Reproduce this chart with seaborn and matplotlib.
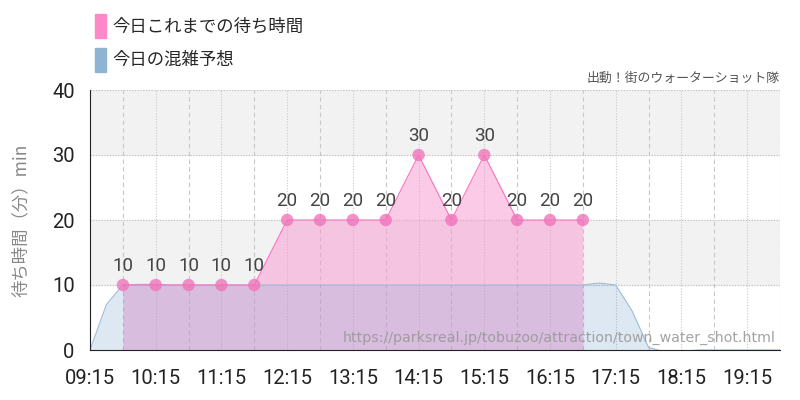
# %%
import pandas as pd
import matplotlib.pyplot as plt
import seaborn as sns
from matplotlib.patches import Patch

# %%
# 今日これまでの待ち時間 (実績)
jikoku = ['09:45', '10:15', '10:45', '11:15', '11:45', '12:15', '12:45', '13:15',
          '13:45', '14:15', '14:45', '15:15', '15:45', '16:15', '16:45']
machi = [10, 10, 10, 10, 10, 20, 20, 20, 20, 30, 20, 30, 20, 20, 20]

# 今日の混雑予想 (15分ごと)
yosou_jikoku = ['09:15', '09:30', '09:45', '10:00', '10:15', '10:30', '10:45', '11:00',
                '11:15', '11:30', '11:45', '12:00', '12:15', '12:30', '12:45', '13:00',
                '13:15', '13:30', '13:45', '14:00', '14:15', '14:30', '14:45', '15:00',
                '15:15', '15:30', '15:45', '16:00', '16:15', '16:30', '16:45', '17:00',
                '17:15', '17:30', '17:45', '18:00', '18:15', '18:30', '18:45', '19:00',
                '19:15', '19:30', '19:45']
yosou = [0, 7, 10, 10.1, 10.1, 10, 10, 10, 10, 10, 10, 10, 10, 10, 10, 10,
         10, 10, 10, 10, 10, 10, 10, 10, 10, 10, 10, 10, 10, 10, 10, 10.3,
         10, 6, 0.4, -0.3, -0.2, 0, 0, 0, 0, 0, 0]

x_ticks = ['09:15', '10:15', '11:15', '12:15', '13:15', '14:15', '15:15',
           '16:15', '17:15', '18:15', '19:15']
y_ticks = [0, 10, 20, 30, 40]


def to_h(s):
    h, m = s.split(':')
    return int(h) + int(m) / 60


df = pd.DataFrame({'t': [to_h(s) for s in jikoku], 'v': machi})
df_y = pd.DataFrame({'t': [to_h(s) for s in yosou_jikoku], 'v': yosou})

# %%
sns.set_style('white')
plt.rcParams['font.family'] = ['DejaVu Sans', 'Noto Sans CJK JP']
jp = ['Noto Sans CJK JP', 'DejaVu Sans']
num = ['Roboto', 'DejaVu Sans']

fig, ax = plt.subplots(figsize=(8, 4), dpi=100)
plt.subplots_adjust(left=90 / 800, right=780 / 800, top=1 - 90 / 400, bottom=1 - 350 / 400)

# 背景の縞模様
ax.axhspan(10, 20, color='#f2f2f2', zorder=0)
ax.axhspan(30, 40, color='#f2f2f2', zorder=0)

# グリッド
for y in y_ticks[1:]:
    ax.axhline(y, color='#bbbbbb', lw=0.8, ls=(0, (1, 1.5)), zorder=0.5)
t_start = to_h('09:15')
for i in range(22):
    t = t_start + i * 0.5
    if i % 2 == 0:
        ax.axvline(t, color='#c8c8c8', lw=0.8, ls=(0, (1, 1.5)), zorder=0.5)
    else:
        ax.axvline(t, color='#c8c8c8', lw=0.8, ls=(0, (4, 3)), zorder=0.5)

# 待ち時間 (塗り)
ax.fill_between(df['t'], df['v'], 0, color='#f997cf', alpha=0.5, lw=0, zorder=1)

# 混雑予想
ax.fill_between(df_y['t'], df_y['v'], 0, color='#558cc3', alpha=0.2, lw=0, zorder=2)
sns.lineplot(data=df_y, x='t', y='v', color='#9dbcd8', lw=0.8, ax=ax, zorder=3)

# 待ち時間 (線・点)
sns.lineplot(data=df, x='t', y='v', color='#ff6fbf', lw=0.8, ax=ax, zorder=4)
sns.scatterplot(data=df, x='t', y='v', color='#f075bb', s=80, alpha=0.8,
                edgecolor='none', ax=ax, zorder=5)
for t, v in zip(df['t'], df['v']):
    ax.text(t, v + 1.5, str(v), ha='center', va='bottom', fontsize=13.5,
            color='#444444', family=num, zorder=6)

# 軸
ax.set_xlim(to_h('09:15'), to_h('19:45'))
ax.set_ylim(0, 40)
ax.set_xticks([to_h(s) for s in x_ticks])
ax.set_xticklabels(x_ticks, fontsize=14.5, color='#222222', family=num)
ax.set_yticks(y_ticks)
ax.set_yticklabels([str(y) for y in y_ticks], fontsize=14.5, color='#222222', family=num)
ax.tick_params(axis='both', length=9, width=0.8, color='#bbbbbb', pad=2)
ax.tick_params(axis='x', pad=5)
ax.set_xlabel('')
ax.set_ylabel('待ち時間（分）min', fontsize=12.5, color='#888888', family=jp, labelpad=16)
for s in ['top', 'right']:
    ax.spines[s].set_visible(False)
ax.spines['left'].set_color('#222222')
ax.spines['bottom'].set_color('#222222')
ax.spines['left'].set_zorder(7)
ax.spines['bottom'].set_zorder(7)

# ウォーターマーク
ax.text(0.993, 0.045, 'https://parksreal.jp/tobuzoo/attraction/town_water_shot.html',
        transform=ax.transAxes, ha='right', va='center', fontsize=10.2,
        color='#999999', alpha=0.9, zorder=8)

# 出典
fig.text(780 / 800, 1 - 78 / 400, '出動！街のウォーターショット隊', ha='right', va='center',
         fontsize=9.3, color='#555555', family=jp)

# 凡例
handles = [Patch(color='#ff88c8', label='今日これまでの待ち時間'),
           Patch(color='#8fb3d3', label='今日の混雑予想')]
fig.legend(handles=handles, loc='upper left', bbox_to_anchor=(95 / 800, 1 - 14 / 400),
           frameon=False, prop={'family': jp, 'size': 12.5}, handlelength=0.65,
           handleheight=1.75, handletextpad=0.35, labelspacing=0.55, borderpad=0,
           borderaxespad=0)

plt.savefig('out.png', dpi=100)
